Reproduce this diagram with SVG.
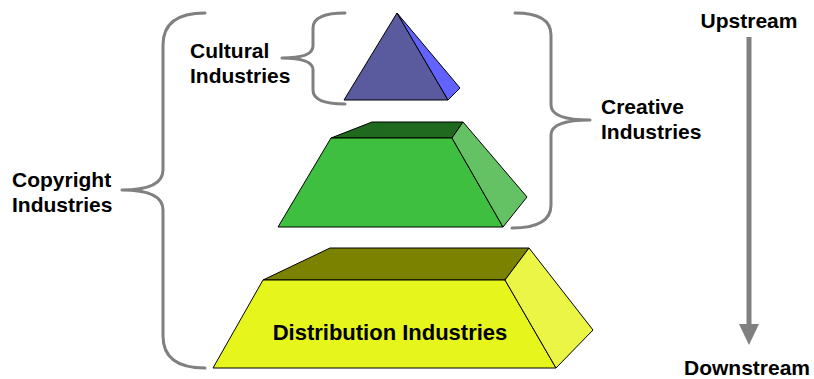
<svg xmlns="http://www.w3.org/2000/svg" width="814" height="379" viewBox="0 0 814 379">
<style>
.face{stroke:#000;stroke-width:1;stroke-linejoin:round}
.brace{fill:none;stroke:#808080;stroke-width:3;stroke-linecap:round;stroke-linejoin:round}
text{font-family:"Liberation Sans",Arial,sans-serif;font-weight:bold;font-size:21px;fill:#000}
</style>
<rect width="814" height="379" fill="#fff"/>
<g id="cultural-pyramid">
<polygon class="face" fill="#5a5a9e" points="397,13 344,100 448,100"/>
<polygon class="face" fill="#6262ff" points="397,13 460,88 448,100"/>
</g>
<g id="creative-block">
<polygon class="face" fill="#1f6a1f" points="331,138 372,122 463,122 452,138"/>
<polygon class="face" fill="#3fbf3f" points="331,138 452,138 503,227 278,227"/>
<polygon class="face" fill="#64c264" points="452,138 463,122 527,197 503,227"/>
</g>
<g id="distribution-block">
<polygon class="face" fill="#7a8200" points="263,280 330,248 529,248 505,280"/>
<polygon class="face" fill="#e6f51c" points="263,280 505,280 556,368 213,368"/>
<polygon class="face" fill="#eaf545" points="505,280 529,248 593,330 556,368"/>
<text x="390" y="340" text-anchor="middle" style="font-size:22px">Distribution Industries</text>
</g>
<g id="connectors">
<path class="brace" d="M205,13 Q163,13 163,45 L163,170 Q163,190 122,190 Q163,190 163,210 L163,336 Q163,368 205,368"/>
<path class="brace" d="M345,13 Q313,13 313,28 L313,46 Q313,58 282,58 Q313,58 313,70 L313,90 Q313,104 345,104"/>
<path class="brace" d="M515,13 Q551,13 551,35 L551,105 Q551,120 590,120 Q551,120 551,135 L551,205 Q551,228 512,228"/>
<line x1="749" y1="37" x2="749" y2="326" stroke="#808080" stroke-width="5"/>
<polygon points="739,324 759,324 749,345" fill="#808080"/>
</g>
<g id="labels">
<text x="190" y="58">Cultural</text>
<text x="190" y="83">Industries</text>
<text x="12" y="187">Copyright</text>
<text x="12" y="212">Industries</text>
<text x="601" y="114">Creative</text>
<text x="601" y="139">Industries</text>
<text x="749" y="28" text-anchor="middle">Upstream</text>
<text x="747" y="375" text-anchor="middle">Downstream</text>
</g>
</svg>
